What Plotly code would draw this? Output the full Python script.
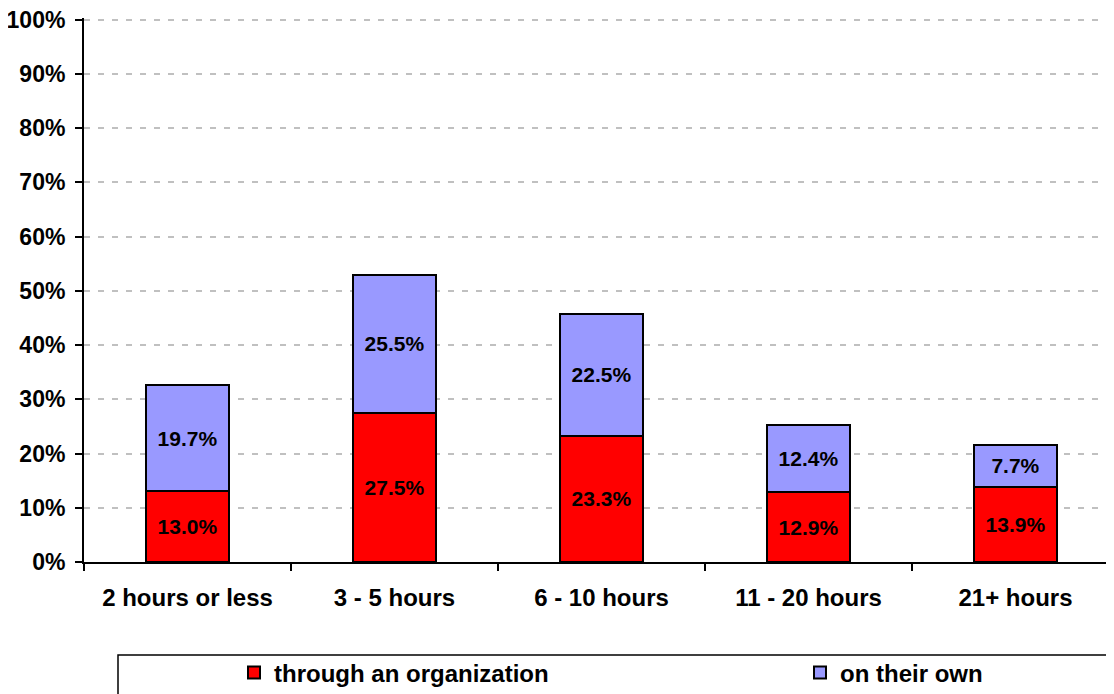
import plotly.graph_objects as go

categories = ['2 hours or less', '3 - 5 hours', '6 - 10 hours', '11 - 20 hours', '21+ hours']
org_values = [13.0, 27.5, 23.3, 12.9, 13.9]
own_values = [19.7, 25.5, 22.5, 12.4, 7.7]
y_ticks = [0, 10, 20, 30, 40, 50, 60, 70, 80, 90, 100]

FONT = 'Arial, Liberation Sans, sans-serif'
x_pos = list(range(len(categories)))

# page body has an 8px margin, so margins are shifted to compensate
PLOT_W = 1114 - 76
PLOT_H = 694 - 10 - 140

fig = go.Figure()

fig.add_trace(go.Bar(
    x=x_pos, y=org_values,
    name='<b>through an organization</b>',
    marker=dict(color='#FF0000', line=dict(color='black', width=2)),
    text=[f'{v:.1f}%' for v in org_values],
    textposition='inside', insidetextanchor='middle',
    textfont=dict(family=FONT, size=21, color='black'),
    texttemplate='<b>%{text}</b>',
    width=0.4, legend='legend'
))

fig.add_trace(go.Bar(
    x=x_pos, y=own_values,
    name='<b>on their own</b>',
    marker=dict(color='#9999FF', line=dict(color='black', width=2)),
    text=[f'{v:.1f}%' for v in own_values],
    textposition='inside', insidetextanchor='middle',
    textfont=dict(family=FONT, size=21, color='black'),
    texttemplate='<b>%{text}</b>',
    width=0.4, legend='legend2'
))

# legend frame (runs off the right and bottom edge like the original)
fig.add_shape(type='rect', xref='paper', yref='paper',
              x0=(118 - 84) / PLOT_W, x1=1.05, y0=-0.3, y1=(562 - 655) / PLOT_H,
              line=dict(color='black', width=1.5), fillcolor='white', layer='below')

legend_style = dict(
    xanchor='left', yanchor='middle',
    y=(562 - 673) / PLOT_H,
    font=dict(family=FONT, size=24, color='black'),
    bgcolor='rgba(0,0,0,0)', borderwidth=0,
)

fig.update_layout(
    barmode='stack',
    width=1114, height=694,
    paper_bgcolor='white', plot_bgcolor='white',
    font=dict(family=FONT, size=16, color='black'),
    margin=dict(l=76, r=0, t=10, b=140),
    uniformtext=dict(minsize=8, mode='show'),
    legend=dict(x=(234 - 84) / PLOT_W, **legend_style),
    legend2=dict(x=(800 - 84) / PLOT_W, **legend_style),
    showlegend=True
)

fig.update_xaxes(
    range=[-0.5, -0.5 + PLOT_W / 207],
    tickvals=x_pos,
    ticktext=[f'<b>{c}</b>' for c in categories],
    ticks='', showgrid=False, automargin=False,
    tickfont=dict(family=FONT, size=24, color='black'),
    showline=True, linecolor='black', linewidth=2,
    minor=dict(tick0=-0.5, dtick=1, ticks='outside', ticklen=7,
               tickwidth=2, tickcolor='black', showgrid=False),
    ticklabelstandoff=13, zeroline=False
)

fig.update_yaxes(
    range=[0, 100.3],
    tickvals=y_ticks,
    ticktext=[f'<b>{t}%</b>' for t in y_ticks],
    ticks='outside', ticklen=7, tickwidth=2, tickcolor='black',
    tickfont=dict(family=FONT, size=23, color='black'),
    showline=True, linecolor='black', linewidth=2, automargin=False,
    showgrid=True, gridcolor='#C0C0C0', gridwidth=2, griddash='6px,8px',
    ticklabelstandoff=5, ticklabeloverflow='allow', zeroline=False
)

fig.write_html('out.html')
